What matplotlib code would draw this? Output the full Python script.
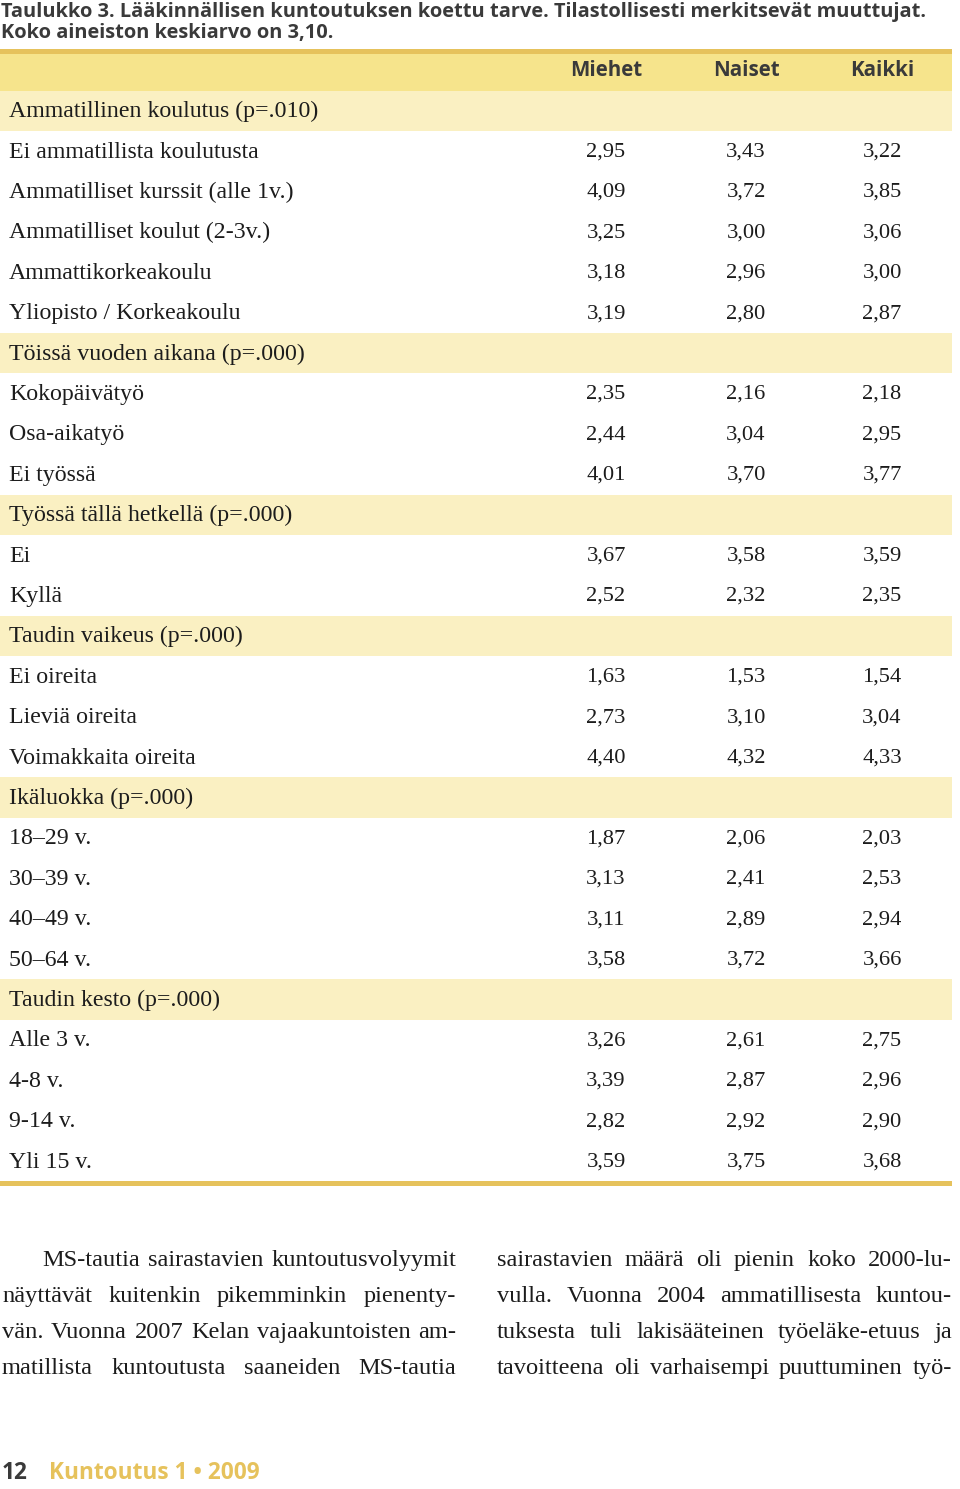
import numpy as np
import matplotlib
matplotlib.use("Agg")
import matplotlib.pyplot as plt

# ---- data -------------------------------------------------------------
title_lines = ["Taulukko 3. Lääkinnällisen kuntoutuksen koettu tarve. Tilastollisesti merkitsevät muuttujat.",
               "Koko aineiston keskiarvo on 3,10."]
col_names = ["Miehet", "Naiset", "Kaikki"]

row_labels = ["Ammatillinen koulutus (p=.010)",
              "Ei ammatillista koulutusta", "Ammatilliset kurssit (alle 1v.)",
              "Ammatilliset koulut (2-3v.)", "Ammattikorkeakoulu", "Yliopisto / Korkeakoulu",
              "Töissä vuoden aikana (p=.000)",
              "Kokopäivätyö", "Osa-aikatyö", "Ei työssä",
              "Työssä tällä hetkellä (p=.000)",
              "Ei", "Kyllä",
              "Taudin vaikeus (p=.000)",
              "Ei oireita", "Lieviä oireita", "Voimakkaita oireita",
              "Ikäluokka (p=.000)",
              "18–29 v.", "30–39 v.", "40–49 v.", "50–64 v.",
              "Taudin kesto (p=.000)",
              "Alle 3 v.", "4-8 v.", "9-14 v.", "Yli 15 v."]
nan = np.nan
miehet = [nan, 2.95, 4.09, 3.25, 3.18, 3.19, nan, 2.35, 2.44, 4.01, nan, 3.67, 2.52,
          nan, 1.63, 2.73, 4.40, nan, 1.87, 3.13, 3.11, 3.58, nan, 3.26, 3.39, 2.82, 3.59]
naiset = [nan, 3.43, 3.72, 3.00, 2.96, 2.80, nan, 2.16, 3.04, 3.70, nan, 3.58, 2.32,
          nan, 1.53, 3.10, 4.32, nan, 2.06, 2.41, 2.89, 3.72, nan, 2.61, 2.87, 2.92, 3.75]
kaikki = [nan, 3.22, 3.85, 3.06, 3.00, 2.87, nan, 2.18, 2.95, 3.77, nan, 3.59, 2.35,
          nan, 1.54, 3.04, 4.33, nan, 2.03, 2.53, 2.94, 3.66, nan, 2.75, 2.96, 2.90, 3.68]

para_left = ["MS-tautia sairastavien kuntoutusvolyymit",
             "näyttävät kuitenkin pikemminkin pienenty-",
             "vän. Vuonna 2007 Kelan vajaakuntoisten am-",
             "matillista kuntoutusta saaneiden MS-tautia"]
para_right = ["sairastavien määrä oli pienin koko 2000-lu-",
              "vulla. Vuonna 2004 ammatillisesta kuntou-",
              "tuksesta tuli lakisääteinen työeläke-etuus ja",
              "tavoitteena oli varhaisempi puuttuminen työ-"]
page_no = "12"
journal = "Kuntoutus 1 • 2009"

# ---- style ------------------------------------------------------------
gold = "#E6C25C"
head_fill = "#F6E48C"
sect_fill = "#FAF0C2"
dark = "#3a3a3a"
ink = "#1c1c1c"
serif = "Liberation Serif"
sans = "Open Sans"

W, H = 960, 1489
fig = plt.figure(figsize=(W / 100, H / 100), dpi=100)
ax = fig.add_axes([0, 0, 1, 1])
ax.set_xlim(0, W)
ax.set_ylim(H, 0)
ax.axis("off")

# title
ax.text(1, 12.5, title_lines[0], fontsize=14.4, fontweight="bold", family=sans, color=dark, va="center")
ax.text(1, 33, title_lines[1], fontsize=14.4, fontweight="bold", family=sans, color=dark, va="center")

# table frame
tab_x0, tab_x1 = 0, 952
row_top, row_h = 90.5, 40.4
ax.fill_between([tab_x0, tab_x1], 49, 53.5, color=gold, lw=0)
ax.fill_between([tab_x0, tab_x1], 53.5, row_top, color=head_fill, lw=0)
col_x = [606, 746, 882]
for cx, name in zip(col_x, col_names):
    ax.text(cx, 70, name, fontsize=14.8, fontweight="bold", family=sans, color=dark,
            ha="center", va="center")

for i, label in enumerate(row_labels):
    y0 = row_top + i * row_h
    yc = y0 + row_h / 2 + 1
    section = np.isnan(miehet[i])
    if section:
        ax.fill_between([tab_x0, tab_x1], y0, y0 + row_h, color=sect_fill, lw=0)
    ax.text(9, yc, label, fontsize=17.2, family=serif, color=ink, va="center")
    if not section:
        for cx, vals in zip(col_x, [miehet, naiset, kaikki]):
            ax.text(cx, yc, f"{vals[i]:.2f}".replace(".", ","), fontsize=16.2, family=serif,
                    color=ink, ha="center", va="center")

y_end = row_top + len(row_labels) * row_h
ax.fill_between([tab_x0, tab_x1], y_end, y_end + 5, color=gold, lw=0)

# body text, justified
fig.canvas.draw()
renderer = fig.canvas.get_renderer()


def justify(line, x0, x1, y):
    words = line.split(" ")
    texts = [ax.text(0, y, w, fontsize=17.6, family=serif, color=ink, va="baseline") for w in words]
    widths = [t.get_window_extent(renderer).width for t in texts]
    gap = (x1 - x0 - sum(widths)) / max(len(words) - 1, 1)
    x = x0
    for t, w in zip(texts, widths):
        t.set_x(x)
        x += w + gap


base_y = [1266, 1302, 1338, 1374]
for k, (l, r) in enumerate(zip(para_left, para_right)):
    justify(l, 42 if k == 0 else 2, 456, base_y[k])
    justify(r, 497, 952, base_y[k])

# footer
ax.text(2, 1473, page_no, fontsize=16.3, fontweight="bold", family=sans, color=dark, va="center")
ax.text(49, 1473, journal, fontsize=16.3, fontweight="bold", family=sans, color=gold, va="center")

fig.savefig("out.png", dpi=100, facecolor="white")
plt.close(fig)
